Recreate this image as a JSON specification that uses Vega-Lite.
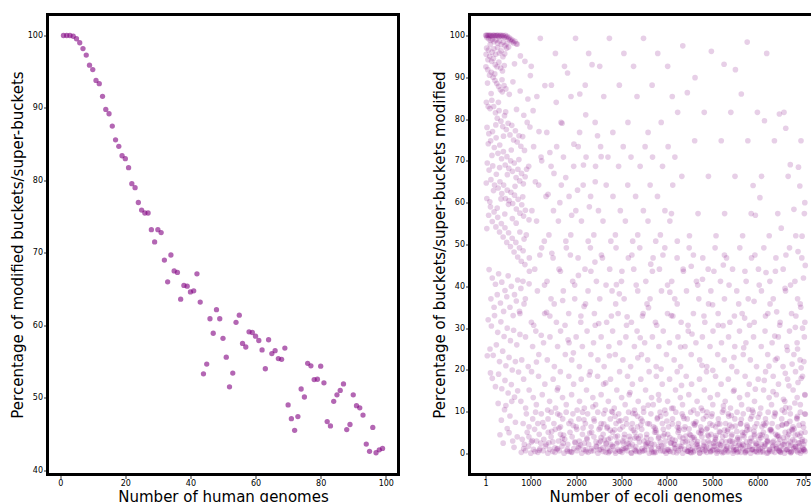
{
"$schema": "https://vega.github.io/schema/vega-lite/v6.json",
"padding": {"left": 8.5, "top": 12.5, "right": 0, "bottom": 0},
"spacing": 71,
"bounds": "flush",
"config": {
 "font": "DejaVu Sans",
 "view": {"stroke": "black", "strokeWidth": 3},
 "axis": {"grid": false, "domain": false, "tickColor": "black", "tickSize": 4, "tickWidth": 0.8, "labelFontSize": 8, "labelColor": "black", "labelPadding": 1, "titleFontSize": 15, "titleFontWeight": "normal", "titleColor": "black", "titlePadding": 2}
},
"datasets": {
"human": [
{"n":1,"p":100},{"n":2,"p":100},{"n":3,"p":100},{"n":4,"p":99.9},{"n":5,"p":99.55},{"n":6,"p":99.0},{"n":7,"p":98.2},{"n":8,"p":97.3},{"n":9,"p":95.9},{"n":10,"p":95.3},
{"n":11,"p":93.8},{"n":12,"p":93.35},{"n":13,"p":91.6},{"n":14,"p":89.8},{"n":15,"p":89.2},{"n":16,"p":87.5},{"n":17,"p":85.6},{"n":18,"p":84.7},{"n":19,"p":83.4},{"n":20,"p":83.0},
{"n":21,"p":81.75},{"n":22,"p":79.55},{"n":23,"p":79.0},{"n":24,"p":76.95},{"n":25,"p":75.9},{"n":26,"p":75.5},{"n":27,"p":75.5},{"n":28,"p":73.2},{"n":29,"p":71.5},{"n":30,"p":73.2},
{"n":31,"p":72.8},{"n":32,"p":69.0},{"n":33,"p":66.0},{"n":34,"p":69.7},{"n":35,"p":67.5},{"n":36,"p":67.3},{"n":37,"p":63.6},{"n":38,"p":65.5},{"n":39,"p":65.4},{"n":40,"p":64.6},
{"n":41,"p":64.75},{"n":42,"p":67.1},{"n":43,"p":63.2},{"n":44,"p":53.3},{"n":45,"p":54.65},{"n":46,"p":60.9},{"n":47,"p":58.9},{"n":48,"p":62.15},{"n":49,"p":60.9},{"n":50,"p":58.2},
{"n":51,"p":55.6},{"n":52,"p":51.5},{"n":53,"p":53.4},{"n":54,"p":60.4},{"n":55,"p":61.4},{"n":56,"p":57.5},{"n":57,"p":57.0},{"n":58,"p":59.1},{"n":59,"p":59.0},{"n":60,"p":58.5},
{"n":61,"p":57.9},{"n":62,"p":56.6},{"n":63,"p":54.0},{"n":64,"p":58.0},{"n":65,"p":56.1},{"n":66,"p":56.5},{"n":67,"p":55.4},{"n":68,"p":55.3},{"n":69,"p":56.85},{"n":70,"p":49.0},
{"n":71,"p":47.1},{"n":72,"p":45.5},{"n":73,"p":47.4},{"n":74,"p":51.2},{"n":75,"p":50.1},{"n":76,"p":54.75},{"n":77,"p":54.4},{"n":78,"p":52.5},{"n":79,"p":52.55},{"n":80,"p":54.35},
{"n":81,"p":52.05},{"n":82,"p":46.7},{"n":83,"p":46.1},{"n":84,"p":49.5},{"n":85,"p":50.4},{"n":86,"p":51.0},{"n":87,"p":51.9},{"n":88,"p":45.6},{"n":89,"p":46.3},{"n":90,"p":50.4},
{"n":91,"p":48.9},{"n":92,"p":48.6},{"n":93,"p":47.6},{"n":94,"p":43.6},{"n":95,"p":42.6},{"n":96,"p":45.9},{"n":97,"p":42.4},{"n":98,"p":42.8},{"n":99,"p":43.0}
],
"ecoli": [
{"n":5,"p":100},{"n":20,"p":100},{"n":40,"p":100},{"n":60,"p":100},{"n":80,"p":100},{"n":100,"p":100},{"n":120,"p":100},{"n":140,"p":99.8},{"n":160,"p":100},{"n":180,"p":100},{"n":200,"p":100},{"n":220,"p":99.9},{"n":240,"p":100},{"n":260,"p":100},{"n":280,"p":100},{"n":300,"p":99.7},{"n":320,"p":100},{"n":340,"p":100},{"n":360,"p":99.8},{"n":380,"p":100},{"n":400,"p":99.9},{"n":420,"p":99.5},{"n":440,"p":100},{"n":460,"p":99.6},{"n":480,"p":99.8},{"n":500,"p":99.2},{"n":520,"p":99.5},{"n":540,"p":98.9},{"n":560,"p":99.1},{"n":580,"p":98.5},{"n":600,"p":98.8},{"n":620,"p":98.2},{"n":650,"p":98.6},{"n":680,"p":98.0},{"n":700,"p":97.9},
{"n":30,"p":99.5},{"n":70,"p":99.2},{"n":110,"p":98.8},{"n":150,"p":99.0},{"n":190,"p":98.5},{"n":230,"p":98.9},{"n":270,"p":98.2},{"n":310,"p":98.7},{"n":350,"p":97.8},{"n":390,"p":98.4},{"n":430,"p":97.5},{"n":470,"p":98.0},{"n":510,"p":97.2},
{"n":25,"p":97.0},{"n":65,"p":96.5},{"n":105,"p":97.8},{"n":145,"p":96.0},{"n":185,"p":96.8},{"n":225,"p":95.5},{"n":265,"p":97.1},{"n":305,"p":95.8},{"n":345,"p":96.3},{"n":385,"p":94.9},{"n":425,"p":95.6},{"n":465,"p":96.9},
{"n":15,"p":95.5},{"n":55,"p":94.2},{"n":95,"p":95.0},{"n":135,"p":93.8},{"n":175,"p":94.5},{"n":215,"p":93.0},{"n":255,"p":92.5},{"n":295,"p":93.6},{"n":335,"p":92.2},{"n":375,"p":91.5},{"n":415,"p":92.8},
{"n":10,"p":92.5},{"n":50,"p":91.8},{"n":90,"p":90.5},{"n":130,"p":91.2},{"n":170,"p":90.0},{"n":210,"p":89.2},{"n":250,"p":88.5},{"n":290,"p":87.8},{"n":330,"p":87.0},{"n":370,"p":86.5},{"n":410,"p":88.0},{"n":450,"p":87.2},
{"n":20,"p":84},{"n":60,"p":83},{"n":100,"p":82.5},{"n":140,"p":84.5},{"n":180,"p":83.0},{"n":220,"p":81.5},{"n":260,"p":80.2},{"n":300,"p":82.0},{"n":340,"p":79.5},{"n":380,"p":78.2},{"n":420,"p":80.8},{"n":460,"p":77.5},{"n":500,"p":79.0},{"n":540,"p":76.2},{"n":580,"p":78.5},{"n":620,"p":75.0},{"n":660,"p":77.2},{"n":700,"p":74.5},{"n":740,"p":76.0},{"n":780,"p":73.5},{"n":820,"p":75.8},{"n":860,"p":72.5},
{"n":35,"p":78.0},{"n":75,"p":76.5},{"n":115,"p":74.8},{"n":155,"p":77.0},{"n":195,"p":73.2},{"n":235,"p":75.5},{"n":275,"p":71.8},{"n":315,"p":73.8},{"n":355,"p":70.5},{"n":395,"p":72.2},{"n":435,"p":69.0},{"n":475,"p":71.0},{"n":515,"p":68.2},{"n":555,"p":70.0},{"n":595,"p":67.5},{"n":635,"p":69.5},{"n":675,"p":66.0},{"n":715,"p":68.0},{"n":755,"p":65.2},{"n":795,"p":67.0},{"n":835,"p":64.5},{"n":875,"p":66.2},
{"n":40,"p":69.5},{"n":80,"p":67.8},{"n":120,"p":65.5},{"n":160,"p":68.8},{"n":200,"p":64.2},{"n":240,"p":66.8},{"n":280,"p":63.5},{"n":320,"p":65.0},{"n":360,"p":62.2},{"n":400,"p":64.2},{"n":440,"p":61.0},{"n":480,"p":63.0},{"n":520,"p":60.5},{"n":560,"p":62.5},{"n":600,"p":59.8},{"n":640,"p":61.8},{"n":680,"p":58.5},{"n":720,"p":60.8},{"n":760,"p":57.5},{"n":800,"p":59.5},{"n":840,"p":56.8},{"n":880,"p":58.2},
{"n":30,"p":61.0},{"n":70,"p":57.0},{"n":110,"p":59.0},{"n":150,"p":55.5},{"n":190,"p":57.8},{"n":230,"p":54.2},{"n":270,"p":56.5},{"n":310,"p":53.0},{"n":350,"p":55.0},{"n":390,"p":51.8},{"n":430,"p":54.0},{"n":470,"p":50.5},{"n":510,"p":52.8},{"n":550,"p":49.5},{"n":590,"p":51.5},{"n":630,"p":48.2},{"n":670,"p":50.5},{"n":710,"p":47.0},{"n":750,"p":49.2},{"n":790,"p":46.0},{"n":830,"p":48.5},{"n":870,"p":45.2},
{"n":80,"p":44},{"n":150,"p":42},{"n":220,"p":40.5},{"n":290,"p":43},{"n":360,"p":41},{"n":430,"p":39},{"n":500,"p":42.5},{"n":570,"p":40},{"n":640,"p":38},{"n":710,"p":41.5},{"n":780,"p":39.5},{"n":120,"p":37},{"n":190,"p":35},{"n":260,"p":38},{"n":330,"p":36},{"n":400,"p":34},{"n":470,"p":37.5},{"n":540,"p":35},{"n":610,"p":33},{"n":680,"p":36.5},{"n":750,"p":34},
{"n":60,"p":32},{"n":130,"p":30.5},{"n":200,"p":33},{"n":270,"p":29},{"n":340,"p":31.5},{"n":410,"p":28},{"n":480,"p":30},{"n":550,"p":27},{"n":620,"p":29.5},{"n":690,"p":26},{"n":760,"p":28.5},{"n":100,"p":25},{"n":170,"p":23.5},{"n":240,"p":26},{"n":310,"p":22},{"n":380,"p":24.5},{"n":450,"p":21},{"n":520,"p":23},{"n":590,"p":20},{"n":660,"p":22},{"n":730,"p":19.5},
{"n":150,"p":18},{"n":220,"p":16},{"n":290,"p":19},{"n":360,"p":15.5},{"n":430,"p":17.5},{"n":500,"p":14.5},{"n":570,"p":16.5},{"n":640,"p":13.5},{"n":710,"p":15},{"n":40,"p":23.4},{"n":30,"p":53.8},{"n":110,"p":19.3},
{"n":280,"p":12},{"n":350,"p":8},{"n":420,"p":10.5},{"n":480,"p":6},{"n":540,"p":9},{"n":600,"p":3},{"n":660,"p":7.5},{"n":320,"p":4.5},{"n":390,"p":2.5},{"n":450,"p":11.5},{"n":520,"p":5},{"n":580,"p":12.5},{"n":630,"p":1.5},{"n":700,"p":4},
{"n":790,"p":0.3},{"n":843,"p":1.2},{"n":884,"p":0.7},{"n":951,"p":1.8},{"n":999,"p":0.1},{"n":1058,"p":1.0},{"n":1094,"p":0.5},{"n":1156,"p":0.3},{"n":1201,"p":1.2},{"n":1272,"p":0.7},{"n":1322,"p":1.8},{"n":1375,"p":0.1},{"n":1416,"p":1.0},{"n":1483,"p":0.5},{"n":1531,"p":0.3},{"n":1590,"p":1.2},{"n":1626,"p":0.7},{"n":1688,"p":1.8},{"n":1733,"p":0.1},{"n":1804,"p":1.0},{"n":1854,"p":0.5},{"n":1907,"p":0.3},{"n":1948,"p":1.2},{"n":2015,"p":0.7},{"n":2063,"p":1.8},{"n":2122,"p":0.1},{"n":2158,"p":1.0},{"n":2220,"p":0.5},{"n":2265,"p":0.3},{"n":2336,"p":1.2},{"n":2386,"p":0.7},{"n":2439,"p":1.8},{"n":2480,"p":0.1},{"n":2547,"p":1.0},{"n":2595,"p":0.5},{"n":2654,"p":0.3},{"n":2690,"p":1.2},{"n":2752,"p":0.7},{"n":2797,"p":1.8},{"n":2868,"p":0.1},{"n":2918,"p":1.0},{"n":2971,"p":0.5},{"n":3012,"p":0.3},{"n":3079,"p":1.2},{"n":3127,"p":0.7},{"n":3186,"p":1.8},{"n":3222,"p":0.1},{"n":3284,"p":1.0},{"n":3329,"p":0.5},{"n":3400,"p":0.3},{"n":3450,"p":1.2},{"n":3503,"p":0.7},{"n":3544,"p":1.8},{"n":3611,"p":0.1},{"n":3659,"p":1.0},{"n":3718,"p":0.5},{"n":3754,"p":0.3},{"n":3816,"p":1.2},{"n":3861,"p":0.7},{"n":3932,"p":1.8},{"n":3982,"p":0.1},{"n":4035,"p":1.0},{"n":4076,"p":0.5},{"n":4143,"p":0.3},{"n":4191,"p":1.2},{"n":4250,"p":0.7},{"n":4286,"p":1.8},{"n":4348,"p":0.1},{"n":4393,"p":1.0},{"n":4464,"p":0.5},{"n":4514,"p":0.3},{"n":4567,"p":1.2},{"n":4608,"p":0.7},{"n":4675,"p":1.8},{"n":4723,"p":0.1},{"n":4782,"p":1.0},{"n":4818,"p":0.5},{"n":4880,"p":0.3},{"n":4925,"p":1.2},{"n":4996,"p":0.7},{"n":5046,"p":1.8},{"n":5099,"p":0.1},{"n":5140,"p":1.0},{"n":5207,"p":0.5},{"n":5255,"p":0.3},{"n":5314,"p":1.2},{"n":5350,"p":0.7},{"n":5412,"p":1.8},{"n":5457,"p":0.1},{"n":5528,"p":1.0},{"n":5578,"p":0.5},{"n":5631,"p":0.3},{"n":5672,"p":1.2},{"n":5739,"p":0.7},{"n":5787,"p":1.8},{"n":5846,"p":0.1},{"n":5882,"p":1.0},{"n":5944,"p":0.5},{"n":5989,"p":0.3},{"n":6060,"p":1.2},{"n":6110,"p":0.7},{"n":6163,"p":1.8},{"n":6204,"p":0.1},{"n":6271,"p":1.0},{"n":6319,"p":0.5},{"n":6378,"p":0.3},{"n":6414,"p":1.2},{"n":6476,"p":0.7},{"n":6521,"p":1.8},{"n":6592,"p":0.1},{"n":6642,"p":1.0},{"n":6695,"p":0.5},{"n":6736,"p":0.3},{"n":6803,"p":1.2},{"n":6851,"p":0.7},{"n":6910,"p":1.8},{"n":6946,"p":0.1},{"n":7008,"p":1.0},{"n":7050,"p":0.5},
{"n":810,"p":3.4},{"n":857,"p":2.2},{"n":920,"p":5.1},{"n":958,"p":4.0},{"n":1013,"p":2.8},{"n":1083,"p":5.8},{"n":1127,"p":3.0},{"n":1185,"p":4.6},{"n":1220,"p":2.5},{"n":1286,"p":3.4},{"n":1337,"p":2.2},{"n":1384,"p":5.1},{"n":1447,"p":4.0},{"n":1485,"p":2.8},{"n":1540,"p":5.8},{"n":1610,"p":3.0},{"n":1654,"p":4.6},{"n":1712,"p":2.5},{"n":1747,"p":3.4},{"n":1813,"p":2.2},{"n":1864,"p":5.1},{"n":1911,"p":4.0},{"n":1974,"p":2.8},{"n":2012,"p":5.8},{"n":2067,"p":3.0},{"n":2137,"p":4.6},{"n":2181,"p":2.5},{"n":2239,"p":3.4},{"n":2274,"p":2.2},{"n":2340,"p":5.1},{"n":2391,"p":4.0},{"n":2438,"p":2.8},{"n":2501,"p":5.8},{"n":2539,"p":3.0},{"n":2594,"p":4.6},{"n":2664,"p":2.5},{"n":2708,"p":3.4},{"n":2766,"p":2.2},{"n":2801,"p":5.1},{"n":2867,"p":4.0},{"n":2918,"p":2.8},{"n":2965,"p":5.8},{"n":3028,"p":3.0},{"n":3066,"p":4.6},{"n":3121,"p":2.5},{"n":3191,"p":3.4},{"n":3235,"p":2.2},{"n":3293,"p":5.1},{"n":3328,"p":4.0},{"n":3394,"p":2.8},{"n":3445,"p":5.8},{"n":3492,"p":3.0},{"n":3555,"p":4.6},{"n":3593,"p":2.5},{"n":3648,"p":3.4},{"n":3718,"p":2.2},{"n":3762,"p":5.1},{"n":3820,"p":4.0},{"n":3855,"p":2.8},{"n":3921,"p":5.8},{"n":3972,"p":3.0},{"n":4019,"p":4.6},{"n":4082,"p":2.5},{"n":4120,"p":3.4},{"n":4175,"p":2.2},{"n":4245,"p":5.1},{"n":4289,"p":4.0},{"n":4347,"p":2.8},{"n":4382,"p":5.8},{"n":4448,"p":3.0},{"n":4499,"p":4.6},{"n":4546,"p":2.5},{"n":4609,"p":3.4},{"n":4647,"p":2.2},{"n":4702,"p":5.1},{"n":4772,"p":4.0},{"n":4816,"p":2.8},{"n":4874,"p":5.8},{"n":4909,"p":3.0},{"n":4975,"p":4.6},{"n":5026,"p":2.5},{"n":5073,"p":3.4},{"n":5136,"p":2.2},{"n":5174,"p":5.1},{"n":5229,"p":4.0},{"n":5299,"p":2.8},{"n":5343,"p":5.8},{"n":5401,"p":3.0},{"n":5436,"p":4.6},{"n":5502,"p":2.5},{"n":5553,"p":3.4},{"n":5600,"p":2.2},{"n":5663,"p":5.1},{"n":5701,"p":4.0},{"n":5756,"p":2.8},{"n":5826,"p":5.8},{"n":5870,"p":3.0},{"n":5928,"p":4.6},{"n":5963,"p":2.5},{"n":6029,"p":3.4},{"n":6080,"p":2.2},{"n":6127,"p":5.1},{"n":6190,"p":4.0},{"n":6228,"p":2.8},{"n":6283,"p":5.8},{"n":6353,"p":3.0},{"n":6397,"p":4.6},{"n":6455,"p":2.5},{"n":6490,"p":3.4},{"n":6556,"p":2.2},{"n":6607,"p":5.1},{"n":6654,"p":4.0},{"n":6717,"p":2.8},{"n":6755,"p":5.8},{"n":6810,"p":3.0},{"n":6880,"p":4.6},{"n":6924,"p":2.5},{"n":6982,"p":3.4},{"n":7017,"p":2.2},{"n":7045,"p":5.1},
{"n":830,"p":7.2},{"n":902,"p":9.5},{"n":960,"p":6.4},{"n":1041,"p":8.3},{"n":1105,"p":9.9},{"n":1154,"p":7.2},{"n":1231,"p":9.5},{"n":1291,"p":6.4},{"n":1379,"p":8.3},{"n":1451,"p":9.9},{"n":1509,"p":7.2},{"n":1590,"p":9.5},{"n":1654,"p":6.4},{"n":1703,"p":8.3},{"n":1780,"p":9.9},{"n":1840,"p":7.2},{"n":1928,"p":9.5},{"n":2000,"p":6.4},{"n":2058,"p":8.3},{"n":2139,"p":9.9},{"n":2203,"p":7.2},{"n":2252,"p":9.5},{"n":2329,"p":6.4},{"n":2389,"p":8.3},{"n":2477,"p":9.9},{"n":2549,"p":7.2},{"n":2607,"p":9.5},{"n":2688,"p":6.4},{"n":2752,"p":8.3},{"n":2801,"p":9.9},{"n":2878,"p":7.2},{"n":2938,"p":9.5},{"n":3026,"p":6.4},{"n":3098,"p":8.3},{"n":3156,"p":9.9},{"n":3237,"p":7.2},{"n":3301,"p":9.5},{"n":3350,"p":6.4},{"n":3427,"p":8.3},{"n":3487,"p":9.9},{"n":3575,"p":7.2},{"n":3647,"p":9.5},{"n":3705,"p":6.4},{"n":3786,"p":8.3},{"n":3850,"p":9.9},{"n":3899,"p":7.2},{"n":3976,"p":9.5},{"n":4036,"p":6.4},{"n":4124,"p":8.3},{"n":4196,"p":9.9},{"n":4254,"p":7.2},{"n":4335,"p":9.5},{"n":4399,"p":6.4},{"n":4448,"p":8.3},{"n":4525,"p":9.9},{"n":4585,"p":7.2},{"n":4673,"p":9.5},{"n":4745,"p":6.4},{"n":4803,"p":8.3},{"n":4884,"p":9.9},{"n":4948,"p":7.2},{"n":4997,"p":9.5},{"n":5074,"p":6.4},{"n":5134,"p":8.3},{"n":5222,"p":9.9},{"n":5294,"p":7.2},{"n":5352,"p":9.5},{"n":5433,"p":6.4},{"n":5497,"p":8.3},{"n":5546,"p":9.9},{"n":5623,"p":7.2},{"n":5683,"p":9.5},{"n":5771,"p":6.4},{"n":5843,"p":8.3},{"n":5901,"p":9.9},{"n":5982,"p":7.2},{"n":6046,"p":9.5},{"n":6095,"p":6.4},{"n":6172,"p":8.3},{"n":6232,"p":9.9},{"n":6320,"p":7.2},{"n":6392,"p":9.5},{"n":6450,"p":6.4},{"n":6531,"p":8.3},{"n":6595,"p":9.9},{"n":6644,"p":7.2},{"n":6721,"p":9.5},{"n":6781,"p":6.4},{"n":6869,"p":8.3},{"n":6941,"p":9.9},{"n":6999,"p":7.2},{"n":7040,"p":9.5},
{"n":4480,"p":1.6},{"n":4523,"p":4.4},{"n":4580,"p":0.4},{"n":4611,"p":6.8},{"n":4677,"p":2.9},{"n":4716,"p":0.9},{"n":4768,"p":5.3},{"n":4811,"p":2.0},{"n":4868,"p":1.6},{"n":4899,"p":4.4},{"n":4965,"p":0.4},{"n":5004,"p":6.8},{"n":5056,"p":2.9},{"n":5099,"p":0.9},{"n":5156,"p":5.3},{"n":5187,"p":2.0},{"n":5253,"p":1.6},{"n":5292,"p":4.4},{"n":5344,"p":0.4},{"n":5387,"p":6.8},{"n":5444,"p":2.9},{"n":5475,"p":0.9},{"n":5541,"p":5.3},{"n":5580,"p":2.0},{"n":5632,"p":1.6},{"n":5675,"p":4.4},{"n":5732,"p":0.4},{"n":5763,"p":6.8},{"n":5829,"p":2.9},{"n":5868,"p":0.9},{"n":5920,"p":5.3},{"n":5963,"p":2.0},{"n":6020,"p":1.6},{"n":6051,"p":4.4},{"n":6117,"p":0.4},{"n":6156,"p":6.8},{"n":6208,"p":2.9},{"n":6251,"p":0.9},{"n":6308,"p":5.3},{"n":6339,"p":2.0},{"n":6405,"p":1.6},{"n":6444,"p":4.4},{"n":6496,"p":0.4},{"n":6539,"p":6.8},{"n":6596,"p":2.9},{"n":6627,"p":0.9},{"n":6693,"p":5.3},{"n":6732,"p":2.0},{"n":6784,"p":1.6},{"n":6827,"p":4.4},{"n":6884,"p":0.4},{"n":6915,"p":6.8},{"n":6981,"p":2.9},{"n":7020,"p":0.9},
{"n":1530,"p":1.4},{"n":1621,"p":6.1},{"n":1694,"p":3.7},{"n":1799,"p":0.6},{"n":1883,"p":7.8},{"n":1974,"p":2.6},{"n":2047,"p":1.4},{"n":2152,"p":6.1},{"n":2236,"p":3.7},{"n":2327,"p":0.6},{"n":2400,"p":7.8},{"n":2505,"p":2.6},{"n":2589,"p":1.4},{"n":2680,"p":6.1},{"n":2753,"p":3.7},{"n":2858,"p":0.6},{"n":2942,"p":7.8},{"n":3033,"p":2.6},{"n":3106,"p":1.4},{"n":3211,"p":6.1},{"n":3295,"p":3.7},{"n":3386,"p":0.6},{"n":3459,"p":7.8},{"n":3564,"p":2.6},{"n":3648,"p":1.4},{"n":3739,"p":6.1},{"n":3812,"p":3.7},{"n":3917,"p":0.6},{"n":4001,"p":7.8},{"n":4092,"p":2.6},{"n":4165,"p":1.4},{"n":4270,"p":6.1},{"n":4354,"p":3.7},{"n":4445,"p":0.6},
{"n":2510,"p":0.9},{"n":2548,"p":3.8},{"n":2609,"p":7.1},{"n":2656,"p":2.3},{"n":2711,"p":0.2},{"n":2749,"p":5.6},{"n":2810,"p":1.7},{"n":2857,"p":8.9},{"n":2912,"p":4.2},{"n":2950,"p":0.6},{"n":3011,"p":0.9},{"n":3058,"p":3.8},{"n":3113,"p":7.1},{"n":3151,"p":2.3},{"n":3212,"p":0.2},{"n":3259,"p":5.6},{"n":3314,"p":1.7},{"n":3352,"p":8.9},{"n":3413,"p":4.2},{"n":3460,"p":0.6},{"n":3515,"p":0.9},{"n":3553,"p":3.8},{"n":3614,"p":7.1},{"n":3661,"p":2.3},{"n":3716,"p":0.2},{"n":3754,"p":5.6},{"n":3815,"p":1.7},{"n":3862,"p":8.9},{"n":3917,"p":4.2},{"n":3955,"p":0.6},{"n":4016,"p":0.9},{"n":4063,"p":3.8},{"n":4118,"p":7.1},{"n":4156,"p":2.3},{"n":4217,"p":0.2},{"n":4264,"p":5.6},{"n":4319,"p":1.7},{"n":4357,"p":8.9},{"n":4418,"p":4.2},{"n":4465,"p":0.6},{"n":4520,"p":0.9},{"n":4558,"p":3.8},{"n":4619,"p":7.1},{"n":4666,"p":2.3},{"n":4721,"p":0.2},{"n":4759,"p":5.6},{"n":4820,"p":1.7},{"n":4867,"p":8.9},{"n":4922,"p":4.2},{"n":4960,"p":0.6},{"n":5021,"p":0.9},{"n":5068,"p":3.8},{"n":5123,"p":7.1},{"n":5161,"p":2.3},{"n":5222,"p":0.2},{"n":5269,"p":5.6},{"n":5324,"p":1.7},{"n":5362,"p":8.9},{"n":5423,"p":4.2},{"n":5470,"p":0.6},{"n":5525,"p":0.9},{"n":5563,"p":3.8},{"n":5624,"p":7.1},{"n":5671,"p":2.3},{"n":5726,"p":0.2},{"n":5764,"p":5.6},{"n":5825,"p":1.7},{"n":5872,"p":8.9},{"n":5927,"p":4.2},{"n":5965,"p":0.6},{"n":6026,"p":0.9},{"n":6073,"p":3.8},{"n":6128,"p":7.1},{"n":6166,"p":2.3},{"n":6227,"p":0.2},{"n":6274,"p":5.6},{"n":6329,"p":1.7},{"n":6367,"p":8.9},{"n":6428,"p":4.2},{"n":6475,"p":0.6},{"n":6530,"p":0.9},{"n":6568,"p":3.8},{"n":6629,"p":7.1},{"n":6676,"p":2.3},{"n":6731,"p":0.2},{"n":6769,"p":5.6},{"n":6830,"p":1.7},{"n":6877,"p":8.9},{"n":6932,"p":4.2},{"n":6970,"p":0.6},{"n":7031,"p":0.9},
{"n":780,"p":12.5},{"n":841,"p":17.8},{"n":885,"p":10.9},{"n":963,"p":15.2},{"n":1016,"p":19.6},{"n":1053,"p":13.4},{"n":1122,"p":11.7},{"n":1170,"p":18.5},{"n":1252,"p":14.1},{"n":1309,"p":16.6},{"n":1370,"p":10.4},{"n":1414,"p":12.5},{"n":1492,"p":17.8},{"n":1545,"p":10.9},{"n":1582,"p":15.2},{"n":1651,"p":19.6},{"n":1699,"p":13.4},{"n":1781,"p":11.7},{"n":1838,"p":18.5},{"n":1899,"p":14.1},{"n":1943,"p":16.6},{"n":2021,"p":10.4},{"n":2074,"p":12.5},{"n":2111,"p":17.8},{"n":2180,"p":10.9},{"n":2228,"p":15.2},{"n":2310,"p":19.6},{"n":2367,"p":13.4},{"n":2428,"p":11.7},{"n":2472,"p":18.5},{"n":2550,"p":14.1},{"n":2603,"p":16.6},{"n":2640,"p":10.4},{"n":2709,"p":12.5},{"n":2757,"p":17.8},{"n":2839,"p":10.9},{"n":2896,"p":15.2},{"n":2957,"p":19.6},{"n":3001,"p":13.4},{"n":3079,"p":11.7},{"n":3132,"p":18.5},{"n":3169,"p":14.1},{"n":3238,"p":16.6},{"n":3286,"p":10.4},{"n":3368,"p":12.5},{"n":3425,"p":17.8},{"n":3486,"p":10.9},{"n":3530,"p":15.2},{"n":3608,"p":19.6},{"n":3661,"p":13.4},{"n":3698,"p":11.7},{"n":3767,"p":18.5},{"n":3815,"p":14.1},{"n":3897,"p":16.6},{"n":3954,"p":10.4},{"n":4015,"p":12.5},{"n":4059,"p":17.8},{"n":4137,"p":10.9},{"n":4190,"p":15.2},{"n":4227,"p":19.6},{"n":4296,"p":13.4},{"n":4344,"p":11.7},{"n":4426,"p":18.5},{"n":4483,"p":14.1},{"n":4544,"p":16.6},{"n":4588,"p":10.4},{"n":4666,"p":12.5},{"n":4719,"p":17.8},{"n":4756,"p":10.9},{"n":4825,"p":15.2},{"n":4873,"p":19.6},{"n":4955,"p":13.4},{"n":5012,"p":11.7},{"n":5073,"p":18.5},{"n":5117,"p":14.1},{"n":5195,"p":16.6},{"n":5248,"p":10.4},{"n":5285,"p":12.5},{"n":5354,"p":17.8},{"n":5402,"p":10.9},{"n":5484,"p":15.2},{"n":5541,"p":19.6},{"n":5602,"p":13.4},{"n":5646,"p":11.7},{"n":5724,"p":18.5},{"n":5777,"p":14.1},{"n":5814,"p":16.6},{"n":5883,"p":10.4},{"n":5931,"p":12.5},{"n":6013,"p":17.8},{"n":6070,"p":10.9},{"n":6131,"p":15.2},{"n":6175,"p":19.6},{"n":6253,"p":13.4},{"n":6306,"p":11.7},{"n":6343,"p":18.5},{"n":6412,"p":14.1},{"n":6460,"p":16.6},{"n":6542,"p":10.4},{"n":6599,"p":12.5},{"n":6660,"p":17.8},{"n":6704,"p":10.9},{"n":6782,"p":15.2},{"n":6835,"p":19.6},{"n":6872,"p":13.4},{"n":6941,"p":11.7},{"n":6989,"p":18.5},{"n":7040,"p":14.1},
{"n":800,"p":22.4},{"n":883,"p":27.9},{"n":942,"p":20.8},{"n":1039,"p":25.6},{"n":1110,"p":29.3},{"n":1176,"p":23.7},{"n":1280,"p":26.5},{"n":1363,"p":22.4},{"n":1422,"p":27.9},{"n":1519,"p":20.8},{"n":1590,"p":25.6},{"n":1656,"p":29.3},{"n":1760,"p":23.7},{"n":1843,"p":26.5},{"n":1902,"p":22.4},{"n":1999,"p":27.9},{"n":2070,"p":20.8},{"n":2136,"p":25.6},{"n":2240,"p":29.3},{"n":2323,"p":23.7},{"n":2382,"p":26.5},{"n":2479,"p":22.4},{"n":2550,"p":27.9},{"n":2616,"p":20.8},{"n":2720,"p":25.6},{"n":2803,"p":29.3},{"n":2862,"p":23.7},{"n":2959,"p":26.5},{"n":3030,"p":22.4},{"n":3096,"p":27.9},{"n":3200,"p":20.8},{"n":3283,"p":25.6},{"n":3342,"p":29.3},{"n":3439,"p":23.7},{"n":3510,"p":26.5},{"n":3576,"p":22.4},{"n":3680,"p":27.9},{"n":3763,"p":20.8},{"n":3822,"p":25.6},{"n":3919,"p":29.3},{"n":3990,"p":23.7},{"n":4056,"p":26.5},{"n":4160,"p":22.4},{"n":4243,"p":27.9},{"n":4302,"p":20.8},{"n":4399,"p":25.6},{"n":4470,"p":29.3},{"n":4536,"p":23.7},{"n":4640,"p":26.5},{"n":4723,"p":22.4},{"n":4782,"p":27.9},{"n":4879,"p":20.8},{"n":4950,"p":25.6},{"n":5016,"p":29.3},{"n":5120,"p":23.7},{"n":5203,"p":26.5},{"n":5262,"p":22.4},{"n":5359,"p":27.9},{"n":5430,"p":20.8},{"n":5496,"p":25.6},{"n":5600,"p":29.3},{"n":5683,"p":23.7},{"n":5742,"p":26.5},{"n":5839,"p":22.4},{"n":5910,"p":27.9},{"n":5976,"p":20.8},{"n":6080,"p":25.6},{"n":6163,"p":29.3},{"n":6222,"p":23.7},{"n":6319,"p":26.5},{"n":6390,"p":22.4},{"n":6456,"p":27.9},{"n":6560,"p":20.8},{"n":6643,"p":25.6},{"n":6702,"p":29.3},{"n":6799,"p":23.7},{"n":6870,"p":26.5},{"n":6936,"p":22.4},{"n":7030,"p":27.9},
{"n":6950,"p":35},{"n":7010,"p":42},{"n":6980,"p":52},{"n":7040,"p":60},{"n":6900,"p":68.5},{"n":6930,"p":64},{"n":7050,"p":45},{"n":6990,"p":30},{"n":7020,"p":22},{"n":6960,"p":18},{"n":7045,"p":14},{"n":6880,"p":25},
{"n":760,"p":33.5},{"n":827,"p":41.2},{"n":879,"p":37.0},{"n":967,"p":46.8},{"n":1012,"p":31.4},{"n":1086,"p":44.1},{"n":1145,"p":38.9},{"n":1238,"p":49.2},{"n":1305,"p":33.5},{"n":1357,"p":41.2},{"n":1445,"p":37.0},{"n":1490,"p":46.8},{"n":1564,"p":31.4},{"n":1623,"p":44.1},{"n":1716,"p":38.9},{"n":1783,"p":49.2},{"n":1835,"p":33.5},{"n":1923,"p":41.2},{"n":1968,"p":37.0},{"n":2042,"p":46.8},{"n":2101,"p":31.4},{"n":2194,"p":44.1},{"n":2261,"p":38.9},{"n":2313,"p":49.2},{"n":2401,"p":33.5},{"n":2446,"p":41.2},{"n":2520,"p":37.0},{"n":2579,"p":46.8},{"n":2672,"p":31.4},{"n":2739,"p":44.1},{"n":2791,"p":38.9},{"n":2879,"p":49.2},{"n":2924,"p":33.5},{"n":2998,"p":41.2},{"n":3057,"p":37.0},{"n":3150,"p":46.8},{"n":3217,"p":31.4},{"n":3269,"p":44.1},{"n":3357,"p":38.9},{"n":3402,"p":49.2},{"n":3476,"p":33.5},{"n":3535,"p":41.2},{"n":3628,"p":37.0},{"n":3695,"p":46.8},{"n":3747,"p":31.4},{"n":3835,"p":44.1},{"n":3880,"p":38.9},{"n":3954,"p":49.2},{"n":4013,"p":33.5},{"n":4106,"p":41.2},{"n":4173,"p":37.0},{"n":4225,"p":46.8},{"n":4313,"p":31.4},{"n":4358,"p":44.1},{"n":4432,"p":38.9},{"n":4491,"p":49.2},{"n":4584,"p":33.5},{"n":4651,"p":41.2},{"n":4703,"p":37.0},{"n":4791,"p":46.8},{"n":4836,"p":31.4},{"n":4910,"p":44.1},{"n":4969,"p":38.9},{"n":5062,"p":49.2},{"n":5129,"p":33.5},{"n":5181,"p":41.2},{"n":5269,"p":37.0},{"n":5314,"p":46.8},{"n":5388,"p":31.4},{"n":5447,"p":44.1},{"n":5540,"p":38.9},{"n":5607,"p":49.2},{"n":5659,"p":33.5},{"n":5747,"p":41.2},{"n":5792,"p":37.0},{"n":5866,"p":46.8},{"n":5925,"p":31.4},{"n":6018,"p":44.1},{"n":6085,"p":38.9},{"n":6137,"p":49.2},{"n":6225,"p":33.5},{"n":6270,"p":41.2},{"n":6344,"p":37.0},{"n":6403,"p":46.8},{"n":6496,"p":31.4},{"n":6563,"p":44.1},{"n":6615,"p":38.9},{"n":6703,"p":49.2},{"n":6748,"p":33.5},{"n":6822,"p":41.2},{"n":6881,"p":37.0},{"n":6974,"p":46.8},{"n":7041,"p":31.4},
{"n":850,"p":35.8},{"n":968,"p":43.6},{"n":1063,"p":30.7},{"n":1200,"p":47.5},{"n":1302,"p":40.3},{"n":1420,"p":32.9},{"n":1515,"p":35.8},{"n":1652,"p":43.6},{"n":1754,"p":30.7},{"n":1872,"p":47.5},{"n":1967,"p":40.3},{"n":2104,"p":32.9},{"n":2206,"p":35.8},{"n":2324,"p":43.6},{"n":2419,"p":30.7},{"n":2556,"p":47.5},{"n":2658,"p":40.3},{"n":2776,"p":32.9},{"n":2871,"p":35.8},{"n":3008,"p":43.6},{"n":3110,"p":30.7},{"n":3228,"p":47.5},{"n":3323,"p":40.3},{"n":3460,"p":32.9},{"n":3562,"p":35.8},{"n":3680,"p":43.6},{"n":3775,"p":30.7},{"n":3912,"p":47.5},{"n":4014,"p":40.3},{"n":4132,"p":32.9},{"n":4227,"p":35.8},{"n":4364,"p":43.6},{"n":4466,"p":30.7},{"n":4584,"p":47.5},{"n":4679,"p":40.3},{"n":4816,"p":32.9},{"n":4918,"p":35.8},{"n":5036,"p":43.6},{"n":5131,"p":30.7},{"n":5268,"p":47.5},{"n":5370,"p":40.3},{"n":5488,"p":32.9},{"n":5583,"p":35.8},{"n":5720,"p":43.6},{"n":5822,"p":30.7},{"n":5940,"p":47.5},{"n":6035,"p":40.3},{"n":6172,"p":32.9},{"n":6274,"p":35.8},{"n":6392,"p":43.6},{"n":6487,"p":30.7},{"n":6624,"p":47.5},{"n":6726,"p":40.3},{"n":6844,"p":32.9},{"n":6939,"p":35.8},
{"n":900,"p":52.3},{"n":953,"p":68.7},{"n":1024,"p":58.1},{"n":1062,"p":73.4},{"n":1126,"p":55.6},{"n":1173,"p":64.2},{"n":1226,"p":70.9},{"n":1297,"p":50.8},{"n":1335,"p":61.5},{"n":1399,"p":52.3},{"n":1446,"p":68.7},{"n":1499,"p":58.1},{"n":1570,"p":73.4},{"n":1608,"p":55.6},{"n":1672,"p":64.2},{"n":1719,"p":70.9},{"n":1772,"p":50.8},{"n":1843,"p":61.5},{"n":1881,"p":52.3},{"n":1945,"p":68.7},{"n":1992,"p":58.1},{"n":2045,"p":73.4},{"n":2116,"p":55.6},{"n":2154,"p":64.2},{"n":2218,"p":70.9},{"n":2265,"p":50.8},{"n":2318,"p":61.5},{"n":2389,"p":52.3},{"n":2427,"p":68.7},{"n":2491,"p":58.1},{"n":2538,"p":73.4},{"n":2591,"p":55.6},{"n":2662,"p":64.2},{"n":2700,"p":70.9},{"n":2764,"p":50.8},{"n":2811,"p":61.5},{"n":2864,"p":52.3},{"n":2935,"p":68.7},{"n":2973,"p":58.1},{"n":3037,"p":73.4},{"n":3084,"p":55.6},{"n":3137,"p":64.2},{"n":3208,"p":70.9},{"n":3246,"p":50.8},{"n":3310,"p":61.5},{"n":3357,"p":52.3},{"n":3410,"p":68.7},{"n":3481,"p":58.1},{"n":3519,"p":73.4},{"n":3583,"p":55.6},{"n":3630,"p":64.2},{"n":3683,"p":70.9},{"n":3754,"p":50.8},{"n":3792,"p":61.5},{"n":3856,"p":52.3},{"n":3903,"p":68.7},{"n":3956,"p":58.1},{"n":4027,"p":73.4},{"n":4065,"p":55.6},{"n":4129,"p":64.2},{"n":4176,"p":70.9},{"n":4229,"p":50.8},
{"n":920,"p":79.2},{"n":1009,"p":92.6},{"n":1133,"p":85.4},{"n":1209,"p":99.3},{"n":1352,"p":76.8},{"n":1453,"p":88.1},{"n":1542,"p":95.7},{"n":1666,"p":79.2},{"n":1742,"p":92.6},{"n":1885,"p":85.4},{"n":1986,"p":99.3},{"n":2075,"p":76.8},{"n":2199,"p":88.1},{"n":2275,"p":95.7},{"n":2418,"p":79.2},{"n":2519,"p":92.6},{"n":2608,"p":85.4},{"n":2732,"p":99.3},{"n":2808,"p":76.8},{"n":2951,"p":88.1},{"n":3052,"p":95.7},{"n":3141,"p":79.2},{"n":3265,"p":92.6},{"n":3341,"p":85.4},{"n":3484,"p":99.3},{"n":3585,"p":76.8},{"n":3674,"p":88.1},{"n":3798,"p":95.7},{"n":3874,"p":79.2},{"n":4017,"p":92.6},{"n":4118,"p":85.4},
{"n":1050,"p":82},{"n":1180,"p":77},{"n":1310,"p":88},{"n":1420,"p":72},{"n":1560,"p":84},{"n":1690,"p":79},{"n":1810,"p":91},{"n":1950,"p":74},{"n":2080,"p":86},{"n":2210,"p":81},{"n":2350,"p":93},{"n":2470,"p":76},{"n":1100,"p":65},{"n":1240,"p":70},{"n":1380,"p":62},{"n":1510,"p":67},{"n":1640,"p":60},{"n":1770,"p":66},{"n":1900,"p":57},{"n":2030,"p":63},{"n":2160,"p":69},{"n":2290,"p":59},{"n":2420,"p":65},{"n":2550,"p":71},
{"n":4100,"p":57.4},{"n":4237,"p":81.6},{"n":4329,"p":66.3},{"n":4497,"p":52.1},{"n":4612,"p":74.8},{"n":4686,"p":57.4},{"n":4823,"p":81.6},{"n":4915,"p":66.3},{"n":5083,"p":52.1},{"n":5198,"p":74.8},{"n":5272,"p":57.4},{"n":5409,"p":81.6},{"n":5501,"p":66.3},{"n":5669,"p":52.1},{"n":5784,"p":74.8},{"n":5858,"p":57.4},{"n":5995,"p":81.6},{"n":6087,"p":66.3},{"n":6255,"p":52.1},{"n":6370,"p":74.8},{"n":6444,"p":57.4},{"n":6581,"p":81.6},{"n":6673,"p":66.3},{"n":6841,"p":52.1},{"n":6956,"p":74.8},{"n":7030,"p":57.4},
{"n":4350,"p":97.5},{"n":4620,"p":89.9},{"n":4980,"p":96.2},{"n":5260,"p":93.1},{"n":5510,"p":91.8},{"n":5770,"p":98.4},{"n":4450,"p":86.3},{"n":6200,"p":95.7},{"n":5640,"p":86.0},{"n":5900,"p":64.1},{"n":6150,"p":79.6},{"n":6480,"p":81.2},{"n":6620,"p":77.8},{"n":6720,"p":69.1},{"n":6800,"p":58.4},{"n":6520,"p":53.9},{"n":6050,"p":61.2},{"n":5950,"p":57.0},
{"n":1033,"p":3.1},{"n":1187,"p":0.8},{"n":1264,"p":7.4},{"n":1398,"p":2.6},{"n":1461,"p":5.3},{"n":1577,"p":1.1},{"n":1639,"p":9.2},{"n":1722,"p":4.4},{"n":1891,"p":0.4},{"n":1936,"p":6.7},{"n":2094,"p":2.1},{"n":2171,"p":8.1},{"n":2213,"p":0.9},{"n":2298,"p":4.9},{"n":2367,"p":11.2},{"n":2452,"p":1.6},{"n":2528,"p":6.2},{"n":2617,"p":3.3},{"n":2733,"p":0.5},{"n":2779,"p":10.1},{"n":2846,"p":5.7},{"n":2893,"p":2.4},{"n":2987,"p":7.9},{"n":3043,"p":1.3},{"n":3172,"p":4.1},{"n":3248,"p":9.6},{"n":3307,"p":0.7},{"n":3371,"p":3.6},{"n":3426,"p":6.9},{"n":3538,"p":2.2},{"n":3587,"p":11.6},{"n":3672,"p":0.3},{"n":3729,"p":5.1},{"n":3793,"p":8.6},{"n":3884,"p":1.9},{"n":3946,"p":4.7},{"n":4046,"p":0.6},{"n":4104,"p":10.8},{"n":4183,"p":3.2},{"n":4231,"p":6.3},{"n":4302,"p":1.2},{"n":4376,"p":8.4},{"n":4411,"p":2.8},{"n":4489,"p":5.9},{"n":4537,"p":0.2},{"n":4593,"p":3.9},{"n":4642,"p":7.6},{"n":4698,"p":1.4},{"n":4741,"p":4.8},{"n":4789,"p":10.3},{"n":4846,"p":0.8},{"n":4891,"p":6.1},{"n":4937,"p":2.5},{"n":4983,"p":8.9},{"n":5031,"p":1.7},{"n":5082,"p":4.3},{"n":5117,"p":0.5},{"n":5168,"p":7.1},{"n":5213,"p":2.9},{"n":5246,"p":11.4},{"n":5301,"p":0.9},{"n":5336,"p":5.4},{"n":5379,"p":3.0},{"n":5421,"p":9.1},{"n":5463,"p":1.5},{"n":5509,"p":6.6},{"n":5552,"p":0.3},{"n":5594,"p":3.4},{"n":5641,"p":8.2},{"n":5688,"p":2.0},{"n":5719,"p":5.0},{"n":5768,"p":0.7},{"n":5801,"p":10.6},{"n":5853,"p":3.7},{"n":5896,"p":1.0},{"n":5939,"p":6.4},{"n":5977,"p":2.3},{"n":6011,"p":8.7},{"n":6066,"p":0.4},{"n":6098,"p":4.5},{"n":6142,"p":1.8},{"n":6187,"p":7.3},{"n":6219,"p":3.1},{"n":6262,"p":0.6},{"n":6297,"p":5.7},{"n":6334,"p":2.7},{"n":6381,"p":9.8},{"n":6422,"p":1.2},{"n":6463,"p":4.0},{"n":6508,"p":0.3},{"n":6547,"p":6.9},{"n":6583,"p":2.2},{"n":6618,"p":11.0},{"n":6659,"p":1.0},{"n":6688,"p":4.6},{"n":6712,"p":7.7},{"n":6747,"p":0.5},{"n":6772,"p":3.3},{"n":6806,"p":5.9},{"n":6839,"p":1.6},{"n":6863,"p":8.5},{"n":6897,"p":2.6},{"n":6921,"p":0.8},{"n":6958,"p":4.9},{"n":6993,"p":1.4},{"n":7012,"p":6.3},{"n":7037,"p":3.0},{"n":7052,"p":9.4},{"n":6570,"p":13.0},{"n":6690,"p":16.2},{"n":6820,"p":12.1},{"n":6960,"p":20.5},{"n":6760,"p":21.4},{"n":6610,"p":19.2},{"n":6890,"p":17.0},{"n":6430,"p":22.8},{"n":6340,"p":14.8},{"n":6250,"p":20.9},
{"n":45,"p":88.6},{"n":125,"p":86.1},{"n":205,"p":90.8},{"n":285,"p":84.0},{"n":365,"p":89.4},{"n":445,"p":81.7},{"n":525,"p":85.9},{"n":605,"p":88.9},{"n":685,"p":82.3},{"n":765,"p":86.7},{"n":845,"p":80.9},{"n":935,"p":84.8},{"n":62,"p":74.1},{"n":143,"p":71.3},{"n":228,"p":78.6},{"n":312,"p":68.4},{"n":397,"p":75.9},{"n":483,"p":66.7},{"n":568,"p":72.6},{"n":652,"p":63.9},{"n":737,"p":70.3},{"n":822,"p":61.4},{"n":907,"p":68.0},{"n":18,"p":64.7},{"n":96,"p":60.2},{"n":178,"p":62.9},{"n":259,"p":58.7},{"n":342,"p":60.9},{"n":426,"p":57.3},{"n":508,"p":59.6},{"n":593,"p":56.2},{"n":677,"p":55.1},{"n":758,"p":53.0},{"n":851,"p":51.3},{"n":960,"p":55.9},{"n":980,"p":78.1},{"n":990,"p":90.4},{"n":870,"p":93.8},{"n":770,"p":95.1},{"n":640,"p":93.2},
{"n":1124,"p":21.9},{"n":1347,"p":33.8},{"n":1598,"p":15.7},{"n":1821,"p":27.2},{"n":2049,"p":42.6},{"n":2288,"p":18.8},{"n":2497,"p":31.1},{"n":2733,"p":23.4},{"n":2951,"p":38.2},{"n":3187,"p":14.6},{"n":3412,"p":27.7},{"n":3644,"p":45.3},{"n":3871,"p":20.2},{"n":4097,"p":33.0},{"n":4322,"p":16.3},{"n":4553,"p":28.6},{"n":4784,"p":41.7},{"n":5011,"p":19.9},{"n":5238,"p":30.6},{"n":5467,"p":14.9},{"n":5693,"p":25.3},{"n":5921,"p":36.4},{"n":6146,"p":17.5},{"n":6377,"p":28.1},{"n":6604,"p":39.5},{"n":6831,"p":30.2},{"n":962,"p":40.6},{"n":1229,"p":28.3},{"n":1463,"p":47.9},{"n":1702,"p":36.6},{"n":1938,"p":24.1},{"n":2174,"p":35.2},{"n":2413,"p":45.8},{"n":2652,"p":16.9},{"n":2887,"p":40.4},{"n":3123,"p":32.7},{"n":3358,"p":22.9},{"n":3594,"p":34.9},{"n":3829,"p":12.8},{"n":4065,"p":38.6},{"n":4301,"p":25.5},{"n":4536,"p":44.8},{"n":4772,"p":21.1},{"n":5007,"p":35.6},{"n":5243,"p":45.1},{"n":5478,"p":23.0},{"n":5714,"p":32.4},{"n":5949,"p":15.4},{"n":6185,"p":43.3},{"n":6420,"p":33.9},{"n":6656,"p":24.7},{"n":6890,"p":48.3}
]
},
"hconcat": [
{
 "width": 351, "height": 460,
 "data": {"name": "human"},
 "mark": {"type": "circle", "size": 28, "color": "#800080", "opacity": 0.6},
 "encoding": {
  "x": {"field": "n", "type": "quantitative", "scale": {"domain": [-3.9, 103.9], "nice": false, "zero": false}, "axis": {"values": [0, 20, 40, 60, 80, 100], "title": "Number of human genomes"}},
  "y": {"field": "p", "type": "quantitative", "scale": {"domain": [39.4, 102.9], "nice": false, "zero": false}, "axis": {"values": [40, 50, 60, 70, 80, 90, 100], "title": "Percentage of modified buckets/super-buckets"}}
 }
},
{
 "width": 352, "height": 460,
 "data": {"name": "ecoli"},
 "mark": {"type": "circle", "size": 32, "color": "#800080", "opacity": 0.19},
 "encoding": {
  "x": {"field": "n", "type": "quantitative", "scale": {"domain": [-352, 7408], "nice": false, "zero": false}, "axis": {"values": [1, 1000, 2000, 3000, 4000, 5000, 6000, 7055], "format": "d", "title": "Number of ecoli genomes"}},
  "y": {"field": "p", "type": "quantitative", "scale": {"domain": [-5, 105], "nice": false, "zero": false}, "axis": {"values": [0, 10, 20, 30, 40, 50, 60, 70, 80, 90, 100], "title": "Percentage of buckets/super-buckets modified"}}
 }
}
]
}
